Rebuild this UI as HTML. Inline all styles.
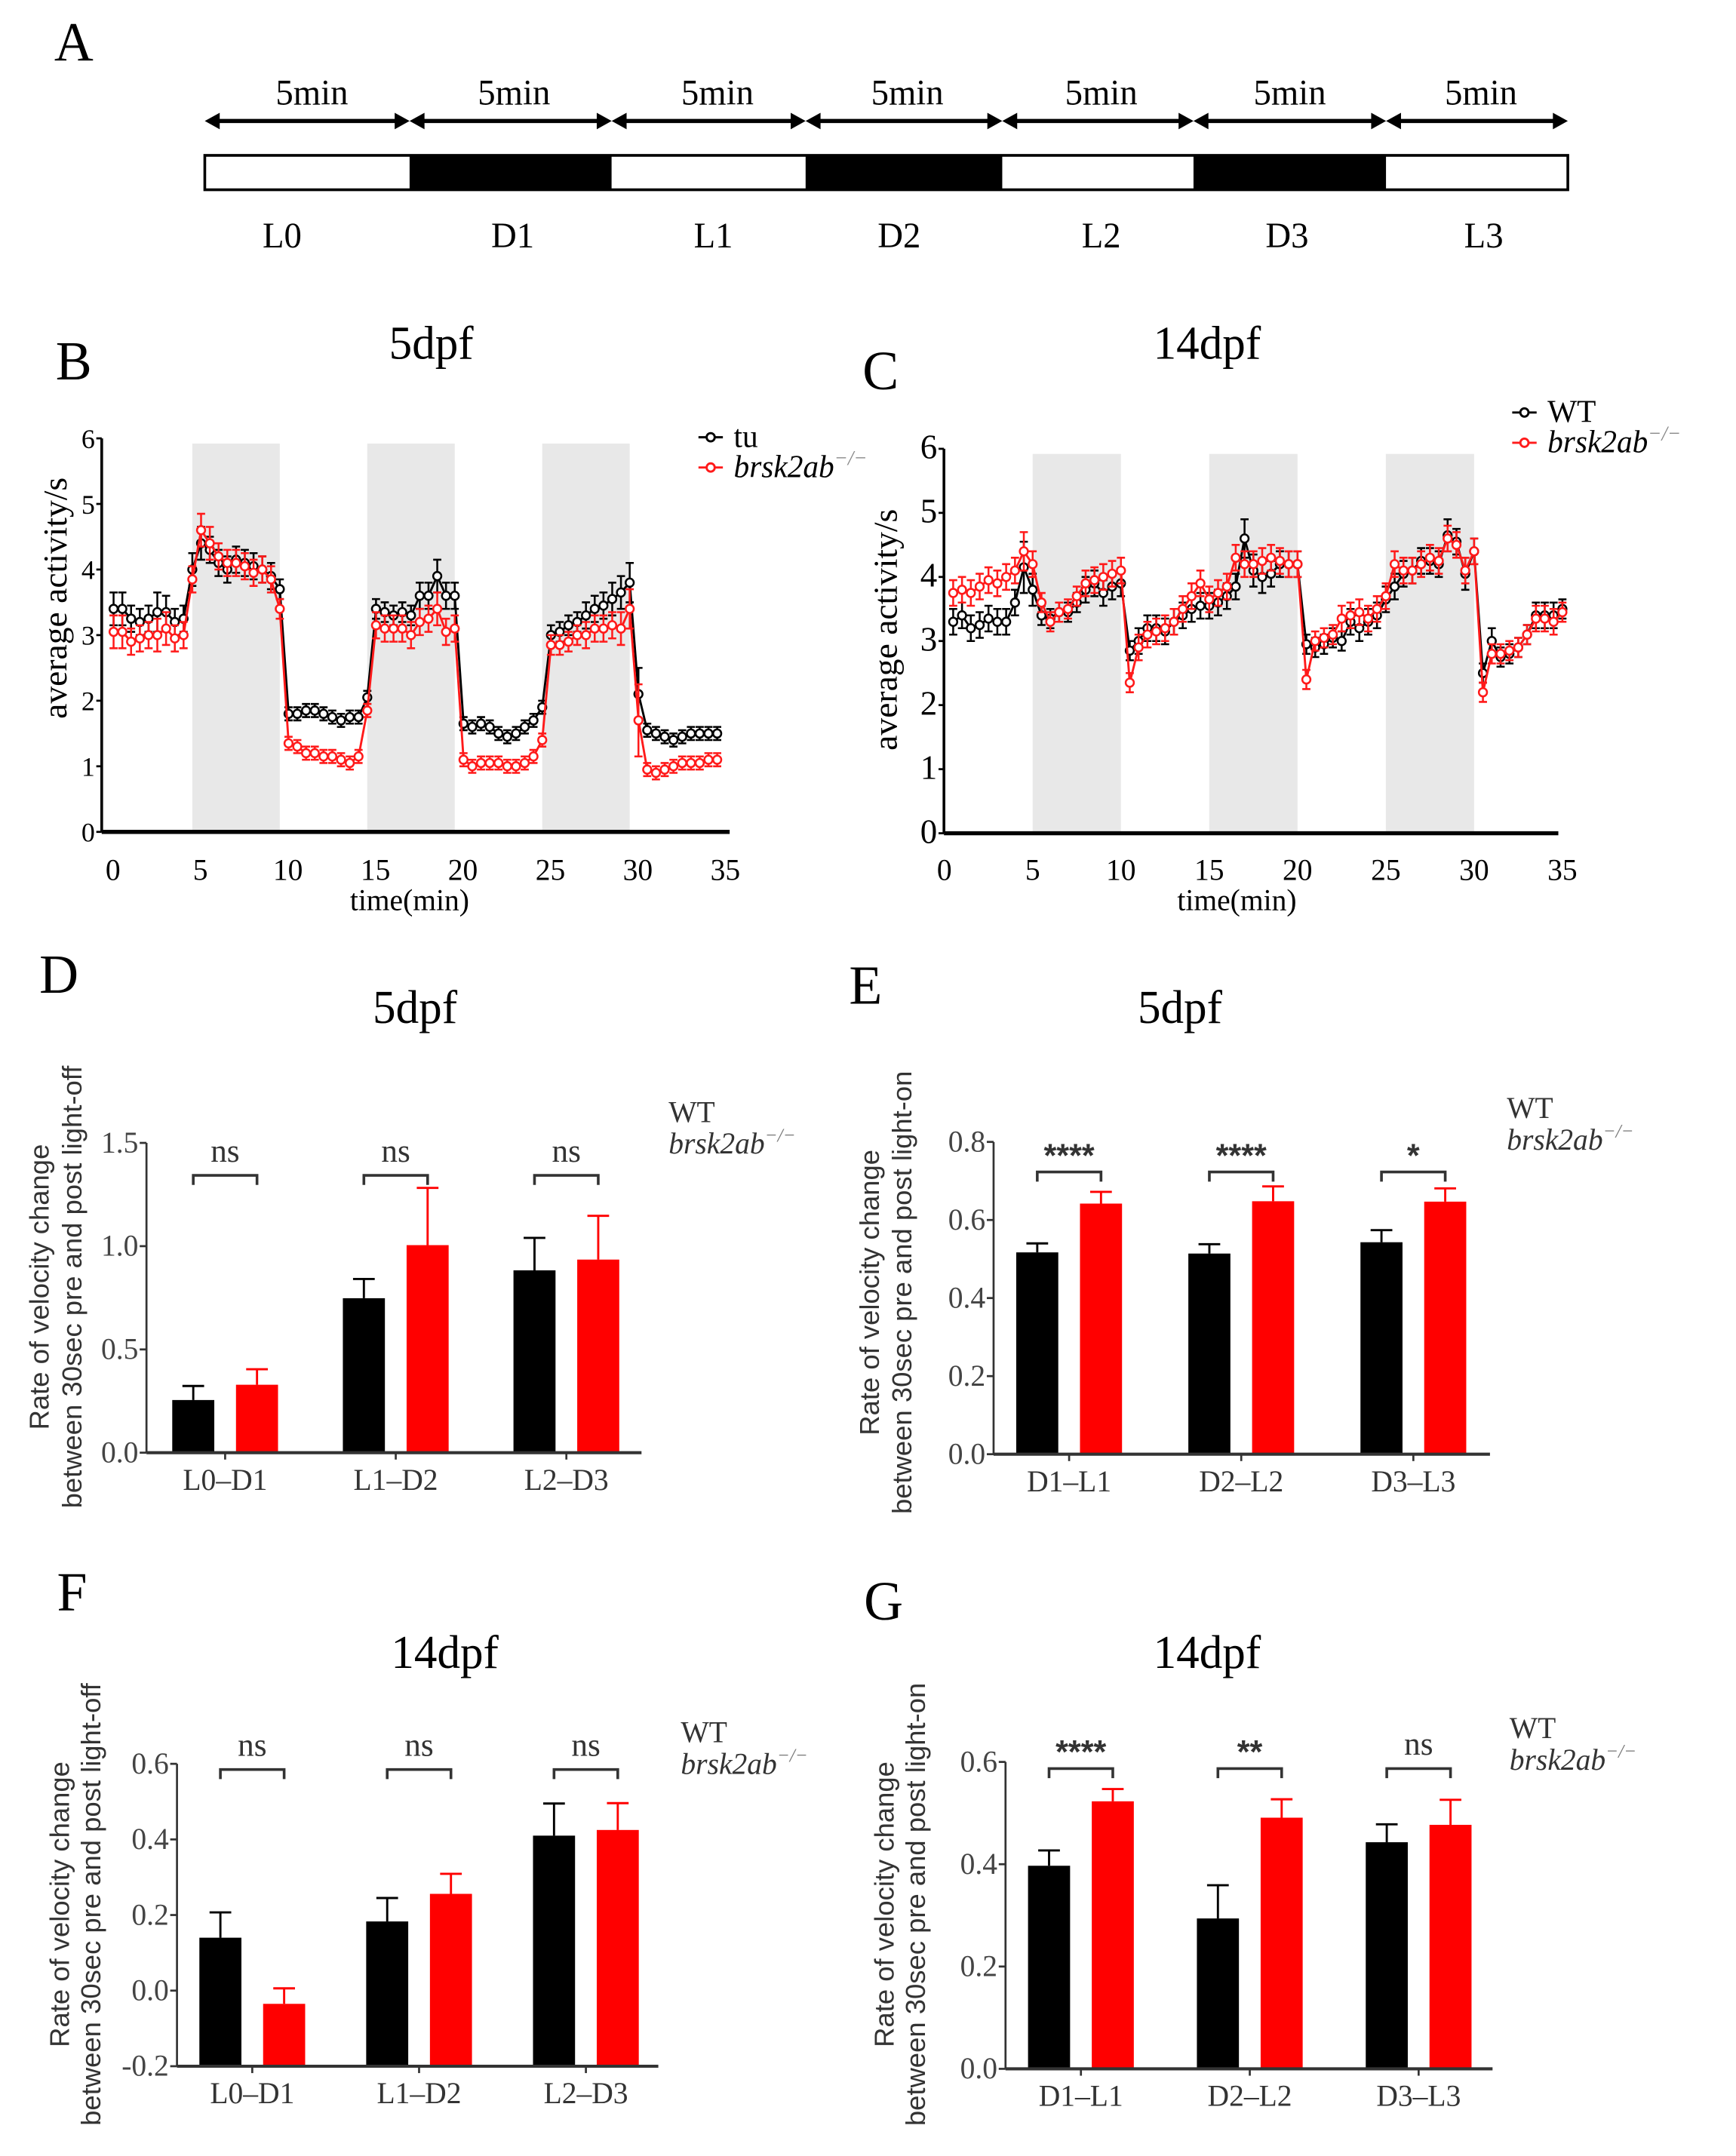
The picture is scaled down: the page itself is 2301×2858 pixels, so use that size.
<!DOCTYPE html>
<html><head><meta charset="utf-8">
<style>
html,body{margin:0;padding:0;background:#fff;}
svg{display:block;}
.serif{font-family:"Liberation Serif","DejaVu Serif",serif;}
.sans{font-family:"Liberation Sans","DejaVu Sans",sans-serif;}
</style></head>
<body>
<svg id="fig" xmlns="http://www.w3.org/2000/svg" width="2301" height="2858" viewBox="0 0 1280 1568" preserveAspectRatio="none">
<rect x="0" y="0" width="1280" height="1568" fill="#fff"/>
<g id="panelA">
<text class="serif" x="40" y="44" font-size="40">A</text>
</g>
<g id="panelB">
<text class="serif" x="41" y="276" font-size="40">B</text>
<text class="serif" x="318" y="261" font-size="34" text-anchor="middle">5dpf</text>
<text class="serif" transform="translate(49,435) rotate(-90)" font-size="25" text-anchor="middle">average activity/s</text>
<text class="serif" x="302" y="662" font-size="22" text-anchor="middle">time(min)</text>
</g>
<g id="panelC">
<text class="serif" x="636" y="283" font-size="40">C</text>
<text class="serif" x="890" y="261" font-size="34" text-anchor="middle">14dpf</text>
<text class="serif" transform="translate(661,458) rotate(-90)" font-size="25" text-anchor="middle">average activity/s</text>
<text class="serif" x="912" y="662" font-size="22" text-anchor="middle">time(min)</text>
</g>
<g id="panelD">
<text class="serif" x="29" y="722" font-size="40">D</text>
<text class="serif" x="306" y="744" font-size="34" text-anchor="middle">5dpf</text>
<text class="sans" transform="translate(36,936) rotate(-90)" font-size="20" fill="#333" text-anchor="middle">Rate of velocity change</text>
<text class="sans" transform="translate(60,936) rotate(-90)" font-size="20" fill="#333" text-anchor="middle">between 30sec pre and post light-off</text>
</g>
<g id="panelE">
<text class="serif" x="626" y="730" font-size="40">E</text>
<text class="serif" x="870" y="744" font-size="34" text-anchor="middle">5dpf</text>
<text class="sans" transform="translate(648,940) rotate(-90)" font-size="20" fill="#333" text-anchor="middle">Rate of velocity change</text>
<text class="sans" transform="translate(672,940) rotate(-90)" font-size="20" fill="#333" text-anchor="middle">between 30sec pre and post light-on</text>
</g>
<g id="panelF">
<text class="serif" x="42" y="1171" font-size="40">F</text>
<text class="serif" x="328" y="1213" font-size="34" text-anchor="middle">14dpf</text>
<text class="sans" transform="translate(51,1385) rotate(-90)" font-size="20" fill="#333" text-anchor="middle">Rate of velocity change</text>
<text class="sans" transform="translate(74,1385) rotate(-90)" font-size="20" fill="#333" text-anchor="middle">between 30sec pre and post light-off</text>
</g>
<g id="panelG">
<text class="serif" x="637" y="1178" font-size="40">G</text>
<text class="serif" x="890" y="1213" font-size="34" text-anchor="middle">14dpf</text>
<text class="sans" transform="translate(659,1385) rotate(-90)" font-size="20" fill="#333" text-anchor="middle">Rate of velocity change</text>
<text class="sans" transform="translate(682,1385) rotate(-90)" font-size="20" fill="#333" text-anchor="middle">between 30sec pre and post light-on</text>
</g>
</svg>
<script>
// ---------- Panel A data ----------
const phaseLabels = ["L0","D1","L1","D2","L2","D3","L3"];
const phaseDark = [false,true,false,true,false,true,false];
const phaseDur = ["5min","5min","5min","5min","5min","5min","5min"];

// ---------- Line chart data (time in minutes) ----------
const timeMin = [0.5,1,1.5,2,2.5,3,3.5,4,4.5,5,5.5,6,6.5,7,7.5,8,8.5,9,9.5,10,10.5,11,11.5,12,12.5,13,13.5,14,14.5,15,15.5,16,16.5,17,17.5,18,18.5,19,19.5,20,20.5,21,21.5,22,22.5,23,23.5,24,24.5,25,25.5,26,26.5,27,27.5,28,28.5,29,29.5,30,30.5,31,31.5,32,32.5,33,33.5,34,34.5,35];
const lineXTicks = [0,5,10,15,20,25,30,35];
const lineYTicks = [0,1,2,3,4,5,6];
const darkPeriods = [[5,10],[15,20],[25,30]];

const bTu = [3.4,3.4,3.25,3.2,3.25,3.35,3.35,3.2,3.25,4.0, 4.4,4.3,4.1,4.0,4.15,4.1,4.05,4.0,3.9,3.7, 1.8,1.8,1.85,1.85,1.8,1.75,1.7,1.75,1.75,2.05, 3.4,3.35,3.3,3.35,3.3,3.6,3.6,3.9,3.6,3.6, 1.65,1.6,1.65,1.6,1.5,1.45,1.5,1.6,1.7,1.9, 3.0,3.05,3.15,3.2,3.3,3.4,3.45,3.55,3.65,3.8, 2.1,1.55,1.5,1.45,1.4,1.45,1.5,1.5,1.5,1.5];
const bTuSem = [.25,.25,.2,.2,.2,.3,.25,.2,.2,.25, .25,.2,.2,.2,.2,.2,.2,.2,.2,.15, .1,.1,.1,.1,.1,.1,.1,.1,.1,.1, .15,.15,.15,.15,.15,.2,.2,.25,.2,.2, .1,.1,.1,.1,.1,.1,.1,.1,.1,.1, .15,.15,.15,.15,.2,.2,.2,.25,.25,.3, .4,.1,.1,.1,.1,.1,.1,.1,.1,.1];
const bMut = [3.05,3.05,2.9,2.95,3.0,3.0,3.1,2.95,3.0,3.85, 4.6,4.4,4.2,4.1,4.1,4.05,3.95,4.0,3.85,3.4, 1.35,1.3,1.2,1.2,1.15,1.15,1.1,1.05,1.15,1.85, 3.15,3.1,3.1,3.1,3.0,3.2,3.25,3.4,3.05,3.1, 1.1,1.0,1.05,1.05,1.05,1.0,1.0,1.05,1.15,1.4, 2.85,2.85,2.9,3.0,3.0,3.1,3.1,3.15,3.1,3.4, 1.7,0.95,0.9,0.95,1.0,1.05,1.05,1.05,1.1,1.1];
const bMutSem = [.25,.25,.2,.2,.2,.25,.25,.2,.2,.2, .25,.25,.2,.2,.2,.2,.2,.2,.2,.15, .1,.1,.1,.1,.1,.1,.1,.1,.1,.1, .2,.2,.2,.2,.2,.2,.2,.25,.2,.2, .1,.1,.1,.1,.1,.1,.1,.1,.1,.1, .15,.15,.15,.15,.2,.2,.2,.2,.25,.3, .55,.1,.1,.1,.1,.1,.1,.1,.1,.1];

const cWt = [3.3,3.4,3.2,3.25,3.35,3.3,3.3,3.6,4.15,3.8, 3.4,3.35,3.45,3.45,3.6,3.8,3.9,3.75,3.85,3.9, 2.85,3.0,3.2,3.2,3.15,3.3,3.4,3.5,3.55,3.55, 3.6,3.7,3.85,4.6,4.1,4.0,4.05,4.2,4.2,4.2, 2.95,2.9,2.95,3.05,3.0,3.3,3.2,3.3,3.4,3.65, 3.85,4.05,4.1,4.25,4.25,4.2,4.65,4.55,4.05,4.4, 2.5,3.0,2.75,2.8,2.9,3.1,3.4,3.4,3.4,3.5];
const cWtSem = [.2,.2,.2,.2,.2,.2,.2,.2,.4,.25, .15,.15,.15,.15,.15,.2,.2,.2,.2,.2, .15,.2,.2,.2,.2,.2,.2,.2,.2,.2, .2,.2,.2,.3,.25,.25,.2,.2,.2,.2, .15,.15,.15,.15,.15,.2,.2,.2,.2,.2, .2,.2,.2,.2,.2,.2,.25,.2,.25,.2, .15,.2,.15,.15,.15,.15,.2,.2,.2,.15];
const cMut = [3.75,3.8,3.75,3.85,3.95,3.9,4.0,4.1,4.4,4.2, 3.6,3.3,3.45,3.5,3.7,3.9,3.95,4.0,4.05,4.1, 2.35,2.9,3.1,3.15,3.2,3.3,3.5,3.7,3.9,3.65, 3.75,3.85,4.3,4.2,4.2,4.25,4.3,4.25,4.2,4.2, 2.4,3.0,3.05,3.1,3.35,3.4,3.45,3.35,3.5,3.7, 4.2,4.1,4.1,4.2,4.3,4.25,4.6,4.5,4.1,4.4, 2.2,2.8,2.8,2.85,2.9,3.1,3.35,3.35,3.3,3.45];
const cMutSem = [.2,.2,.2,.2,.2,.2,.2,.2,.3,.2, .15,.15,.15,.15,.15,.2,.2,.2,.2,.2, .15,.2,.2,.2,.2,.2,.2,.2,.2,.2, .2,.2,.2,.2,.2,.2,.2,.2,.2,.2, .15,.15,.15,.15,.2,.2,.2,.2,.2,.2, .2,.2,.2,.2,.2,.2,.2,.2,.2,.2, .15,.15,.15,.15,.15,.15,.2,.2,.2,.15];

// ---------- Bar chart data ----------
const offCategories = ["L0\u2013D1","L1\u2013D2","L2\u2013D3"];
const onCategories = ["D1\u2013L1","D2\u2013L2","D3\u2013L3"];
const dWt = [0.255,0.748,0.883];
const dWtSem = [0.068,0.093,0.157];
const dMut = [0.329,1.005,0.935];
const dMutSem = [0.075,0.277,0.212];
const dSig = ["ns","ns","ns"];
const dTicks = [0.0,0.5,1.0,1.5];
const eWt = [0.517,0.514,0.543];
const eWtSem = [0.023,0.024,0.031];
const eMut = [0.642,0.648,0.647];
const eMutSem = [0.030,0.038,0.034];
const eSig = ["****","****","*"];
const eTicks = [0.0,0.2,0.4,0.6,0.8];
const fWt = [0.140,0.183,0.410];
const fWtSem = [0.067,0.062,0.085];
const fMut = [-0.035,0.256,0.425];
const fMutSem = [0.041,0.053,0.071];
const fSig = ["ns","ns","ns"];
const fTicks = [-0.2,0.0,0.2,0.4,0.6];
const gWt = [0.397,0.294,0.443];
const gWtSem = [0.030,0.065,0.035];
const gMut = [0.523,0.491,0.477];
const gMutSem = [0.024,0.036,0.049];
const gSig = ["****","**","ns"];
const gTicks = [0.0,0.2,0.4,0.6];

const NS = "http://www.w3.org/2000/svg";
const svg = document.getElementById("fig");
function mk(tag, attrs, parent){
  const e = document.createElementNS(NS, tag);
  for (const k in attrs) e.setAttribute(k, attrs[k]);
  (parent||svg).appendChild(e);
  return e;
}
function txt(s, attrs, parent){ const t = mk("text", attrs, parent); t.textContent = s; return t; }

// ---------- Panel A ----------
(function(){
  const g = document.getElementById("panelA");
  const bounds = [151,302,451,594,739,880,1022,1156];
  const durX = [230,379,529,669,812,951,1092];
  const labX = [208,378,526,663,812,949,1094];
  const arrowY = 88;
  for (let i=0;i<phaseLabels.length;i++){
    const x1 = bounds[i], x2 = bounds[i+1];
    const seg = mk("rect",{x:x1,y:113,width:x2-x1,height:25,fill:phaseDark[i]?"#000":"#fff"},g);
    
    
    const ln = mk("line",{x1:x1+3,y1:arrowY,x2:x2-3,y2:arrowY,stroke:"#000","stroke-width":3},g);
    
    
    const hl = mk("polygon",{points:(x1)+","+arrowY+" "+(x1+11)+","+(arrowY-6)+" "+(x1+11)+","+(arrowY+6),fill:"#000"},g);
    
    
    const hr = mk("polygon",{points:(x2)+","+arrowY+" "+(x2-11)+","+(arrowY-6)+" "+(x2-11)+","+(arrowY+6),fill:"#000"},g);
    
    
    const d = txt(phaseDur[i],{x:durX[i],y:76,"font-size":26,"text-anchor":"middle",class:"serif"},g);
    
    
    const l = txt(phaseLabels[i],{x:labX[i],y:180,"font-size":26,"text-anchor":"middle",class:"serif"},g);
    
    
  }
  const fr = mk("rect",{x:151,y:113,width:1005,height:25,fill:"none",stroke:"#000","stroke-width":2},g);
  
  
})();

// ---------- Line charts ----------
function lineChart(g, cfg, series){
  const X = t => cfg.x0 + t*cfg.pxMin;
  const Y = v => cfg.y0 - v*cfg.pxUnit;
  darkPeriods.forEach(p=>{
    const r = mk("rect",{x:X(p[0]),y:Y(5.92),width:X(p[1])-X(p[0]),height:Y(0)-Y(5.92),fill:"#e8e8e8"},g);
    
    
  });
  const ya = mk("line",{x1:cfg.axisX,y1:Y(0),x2:cfg.axisX,y2:Y(6),stroke:"#000","stroke-width":2},g);
  
  
  const xa = mk("line",{x1:cfg.axisX,y1:Y(0),x2:cfg.xEnd,y2:Y(0),stroke:"#000","stroke-width":3},g);
  
  
  lineYTicks.forEach(v=>{
    const tk = mk("line",{x1:cfg.axisX-4,y1:Y(v),x2:cfg.axisX,y2:Y(v),stroke:"#000","stroke-width":1.5},g);
    
    
    const tl = txt(String(v),{x:cfg.axisX-5,y:Y(v)+7,"font-size":cfg.tickFont,"text-anchor":"end",class:"serif"},g);
    
    
  });
  lineXTicks.forEach(t=>{
    const tl = txt(String(t),{x:X(t)+cfg.xLabShift,y:640,"font-size":22,"text-anchor":"middle",class:"serif"},g);
    
    
  });
  series.forEach(s=>{
    let d = "";
    timeMin.forEach((t,i)=>{ d += (i?"L":"M")+X(t).toFixed(1)+","+Y(s.v[i]).toFixed(1); });
    const p = mk("path",{d:d,fill:"none",stroke:s.color,"stroke-width":1.6},g);
    
    
    timeMin.forEach((t,i)=>{
      const x = X(t), y1 = Y(s.v[i]+s.e[i]), y2 = Y(s.v[i]-s.e[i]);
      const eb = mk("path",{d:"M"+x+","+y1+"L"+x+","+y2+"M"+(x-3)+","+y1+"L"+(x+3)+","+y1+"M"+(x-3)+","+y2+"L"+(x+3)+","+y2,stroke:s.color,"stroke-width":1.4,fill:"none"},g);
      
      
    });
    timeMin.forEach((t,i)=>{
      const c = mk("circle",{cx:X(t),cy:Y(s.v[i]),r:3,fill:"#fff",stroke:s.color,"stroke-width":1.4},g);
      
      
    });
  });
  const lg = mk("g",{},g);
  
  
  series.forEach((s,i)=>{
    const y = cfg.legY + i*22;
    const ll = mk("line",{x1:cfg.legX-9,y1:y,x2:cfg.legX+9,y2:y,stroke:s.color,"stroke-width":1.6},lg);
    
    
    const lc = mk("circle",{cx:cfg.legX,cy:y,r:3,fill:"#fff",stroke:s.color,"stroke-width":1.6},lg);
    
    
    const lt = mk("text",{x:cfg.legX+17,y:y+7,"font-size":23,class:"serif"},lg);
    if (s.italic){
      lt.setAttribute("font-style","italic");
      lt.textContent = s.label;
      const sup = mk("tspan",{dy:-9,"font-size":15,fill:"#888","font-style":"italic"},lt);
      sup.textContent = "\u2212/\u2212";
    } else lt.textContent = s.label;
    
    
  });
}
lineChart(document.getElementById("panelB"),
  {x0:77.3,pxMin:12.9,y0:605,pxUnit:47.7,axisX:75,xEnd:538,tickFont:20,xLabShift:6,legX:524,legY:318},
  [{v:bTu,e:bTuSem,color:"#000",name:"tu",label:"tu"},
   {v:bMut,e:bMutSem,color:"#ff1a1a",name:"brsk2ab",label:"brsk2ab",italic:true}]);
lineChart(document.getElementById("panelC"),
  {x0:696.3,pxMin:13.02,y0:606,pxUnit:46.6,axisX:696,xEnd:1149,tickFont:25,xLabShift:0,legX:1124,legY:300},
  [{v:cWt,e:cWtSem,color:"#000",name:"wt",label:"WT"},
   {v:cMut,e:cMutSem,color:"#ff1a1a",name:"brsk2ab",label:"brsk2ab",italic:true}]);

// ---------- Bar charts ----------
function barChart(g, cfg, cats, wt, wtSem, mut, mutSem, sig, ticks){
  const Y = v => cfg.yRef - (v - cfg.vRef)*cfg.pxUnit;
  const base = Y(cfg.vMin);
  const cx = i => cfg.first + i*cfg.step;
  const bw = 31, off = 23.5;
  cats.forEach((c,i)=>{
    [[wt,wtSem,"#000",-off,"wt"],[mut,mutSem,"#ff0000",off,"brsk2ab"]].forEach(s=>{
      const x = cx(i)+s[3], v = s[0][i], top = Y(Math.max(v,cfg.vMin));
      const ey = Y(v+s[1][i]);
      const eb = mk("path",{d:"M"+x+","+top+"L"+x+","+ey+"M"+(x-8)+","+ey+"L"+(x+8)+","+ey,stroke:s[2],"stroke-width":1.6,fill:"none"},g);
      
      
      const r = mk("rect",{x:x-bw/2,y:top,width:bw,height:base-top,fill:s[2]},g);
      
      
    });
    const bx1 = cx(i)-off, bx2 = cx(i)+off, by = Y(cfg.brVal);
    const br = mk("path",{d:"M"+bx1+","+(by+7)+"L"+bx1+","+by+"L"+bx2+","+by+"L"+bx2+","+(by+7),stroke:"#333","stroke-width":2,fill:"none"},g);
    
    
    const isStar = sig[i] !== "ns";
    const st = txt(sig[i],{x:cx(i),y:isStar?by-4:by-10,"font-size":24,"text-anchor":"middle",fill:"#333",class:isStar?"sans":"serif","font-weight":isStar?"bold":"normal"},g);
    
    
    const xt = mk("line",{x1:cx(i),y1:base,x2:cx(i),y2:base+5,stroke:"#333","stroke-width":1.5},g);
    
    
    const xl = txt(c,{x:cx(i),y:base+27,"font-size":22,"text-anchor":"middle",fill:"#333",class:"serif"},g);
    
    
  });
  const ya = mk("line",{x1:cfg.axisX,y1:base,x2:cfg.axisX,y2:Y(ticks[ticks.length-1]),stroke:"#333","stroke-width":1.5},g);
  
  
  const xa = mk("line",{x1:cfg.axisX,y1:base,x2:cfg.xEnd,y2:base,stroke:"#333","stroke-width":2.2},g);
  
  
  ticks.forEach(v=>{
    const tk = mk("line",{x1:cfg.axisX-5,y1:Y(v),x2:cfg.axisX,y2:Y(v),stroke:"#333","stroke-width":1.5},g);
    
    
    const tl = txt(v.toFixed(1),{x:cfg.axisX-6,y:Y(v)+7,"font-size":22,"text-anchor":"end",fill:"#444",class:"serif"},g);
    
    
  });
  const lw = txt("WT",{x:cfg.legX,y:cfg.legY,"font-size":22,fill:"#333",class:"serif"},g);
  
  
  const lm = txt("brsk2ab",{x:cfg.legX,y:cfg.legY+23,"font-size":22,fill:"#333","font-style":"italic",class:"serif"},g);
  const sp = mk("tspan",{dy:-9,"font-size":14,fill:"#777"},lm);
  sp.textContent = "\u2212/\u2212";
  
  
}
barChart(document.getElementById("panelD"),
  {yRef:1056.5,vRef:0,vMin:0,pxUnit:150.2,axisX:108,xEnd:473,first:166,step:125.8,brVal:1.343,legX:493,legY:816},
  offCategories,dWt,dWtSem,dMut,dMutSem,dSig,dTicks);
barChart(document.getElementById("panelE"),
  {yRef:1057.6,vRef:0,vMin:0,pxUnit:283.9,axisX:732.6,xEnd:1098.6,first:788.3,step:126.9,brVal:0.723,legX:1111,legY:813},
  onCategories,eWt,eWtSem,eMut,eMutSem,eSig,eTicks);
barChart(document.getElementById("panelF"),
  {yRef:1502.7,vRef:-0.2,vMin:-0.2,pxUnit:274.9,axisX:130.5,xEnd:485.4,first:186,step:123,brVal:0.585,legX:502,legY:1267},
  offCategories,fWt,fWtSem,fMut,fMutSem,fSig,fTicks);
barChart(document.getElementById("panelG"),
  {yRef:1504.6,vRef:0,vMin:0,pxUnit:372,axisX:741.4,xEnd:1100.5,first:797,step:124.5,brVal:0.587,legX:1113,legY:1264},
  onCategories,gWt,gWtSem,gMut,gMutSem,gSig,gTicks);
</script>
</body></html>
